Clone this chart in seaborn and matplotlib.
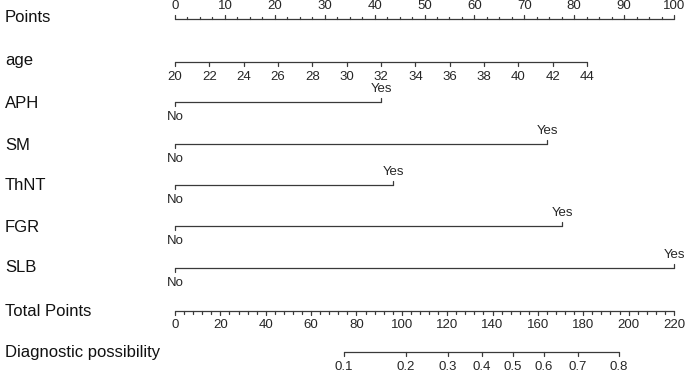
import numpy as np
import pandas as pd
import seaborn as sns
import matplotlib.pyplot as plt

# values
row_names = ["Points", "age", "APH", "SM", "ThNT", "FGR", "SLB", "Total Points", "Diagnostic possibility"]
age_values = [20, 22, 24, 26, 28, 30, 32, 34, 36, 38, 40, 42, 44]
age_max_points = 82.6
binary_vars = ["APH", "SM", "ThNT", "FGR", "SLB"]
binary_yes_points = [41.3, 74.6, 43.7, 77.6, 100.0]
total_max = 220
diag_probs = [0.1, 0.2, 0.3, 0.4, 0.5, 0.6, 0.7, 0.8]
diag_total_points = [74.6, 101.9, 120.2, 135.2, 148.9, 162.7, 177.5, 195.8]

sns.set_style("white")
plt.rcParams["font.family"] = ["Liberation Sans", "DejaVu Sans"]

W, H = 685, 372
x0, x1 = 175, 674          # pixel positions of 0 and 100 points
scale = (x1 - x0) / 100.0

fig = plt.figure(figsize=(W / 100, H / 100), dpi=100)
ax = fig.add_axes([0, 0, 1, 1])

line_col = "#3a3a3a"
lw = 0.9
lab_fs = 12
tick_fs = 9.5

row_y = {"Points": 19, "age": 62, "APH": 102, "SM": 144, "ThNT": 185,
         "FGR": 226, "SLB": 268, "Total Points": 311, "Diagnostic possibility": 352}
label_y = {"Points": 18, "age": 60, "APH": 103, "SM": 145, "ThNT": 186,
           "FGR": 227, "SLB": 268, "Total Points": 311, "Diagnostic possibility": 352}

# horizontal axis lines via seaborn
age_pts = [(a - age_values[0]) / (age_values[-1] - age_values[0]) * age_max_points for a in age_values]
tot_to_pts = 100.0 / total_max
segs = [("Points", 0, 100), ("age", 0, age_max_points)]
segs += [(v, 0, p) for v, p in zip(binary_vars, binary_yes_points)]
segs += [("Total Points", 0, 100),
         ("Diagnostic possibility", diag_total_points[0] * tot_to_pts, diag_total_points[-1] * tot_to_pts)]
rows = []
for name, a, b in segs:
    rows.append({"row": name, "x": a, "y": row_y[name]})
    rows.append({"row": name, "x": b, "y": row_y[name]})
df = pd.DataFrame(rows)
sns.lineplot(data=df, x="x", y="y", units="row", estimator=None, color=line_col,
             lw=lw, ax=ax, sort=False, legend=False)
ax.set_xlim(-x0 / scale, (W - x0) / scale)
ax.set_ylim(H, 0)
ax.axis("off")

for name in row_names:
    ax.text(-x0 / scale + 5 / scale, label_y[name], name, fontsize=lab_fs,
            va="center", ha="left", color="#111111")

# Points axis: ticks up, labels above
y = row_y["Points"]
for v in np.arange(0, 100.01, 2.5):
    major = abs(v % 10) < 1e-6
    ax.plot([v, v], [y, y - (4 if major else 2.5)], color=line_col, lw=lw)
    if major:
        ax.text(v, 6, f"{int(v)}", ha="center", va="center", fontsize=tick_fs)

# age axis: ticks down, labels below
y = row_y["age"]
for a, p in zip(age_values, age_pts):
    ax.plot([p, p], [y, y + 4], color=line_col, lw=lw)
    ax.text(p, 77, str(a), ha="center", va="center", fontsize=tick_fs)

# binary variables
for v, p in zip(binary_vars, binary_yes_points):
    y = row_y[v]
    ax.plot([0, 0], [y, y + 4], color=line_col, lw=lw)
    ax.plot([p, p], [y, y - 4], color=line_col, lw=lw)
    ax.text(0, y + 15, "No", ha="center", va="center", fontsize=tick_fs)
    ax.text(p, y - 13, "Yes", ha="center", va="center", fontsize=tick_fs)

# Total Points axis: ticks down, labels below
y = row_y["Total Points"]
for t in np.arange(0, total_max + 0.01, 4):
    major = t % 20 == 0
    ax.plot([t * tot_to_pts] * 2, [y, y + (4 if major else 2.5)], color=line_col, lw=lw)
    if major:
        ax.text(t * tot_to_pts, 325, f"{int(t)}", ha="center", va="center", fontsize=tick_fs)

# Diagnostic possibility axis
y = row_y["Diagnostic possibility"]
for pr, t in zip(diag_probs, diag_total_points):
    ax.plot([t * tot_to_pts] * 2, [y, y + 4], color=line_col, lw=lw)
    ax.text(t * tot_to_pts, 367, f"{pr:g}", ha="center", va="center", fontsize=tick_fs)

fig.savefig("out.png", dpi=100)
